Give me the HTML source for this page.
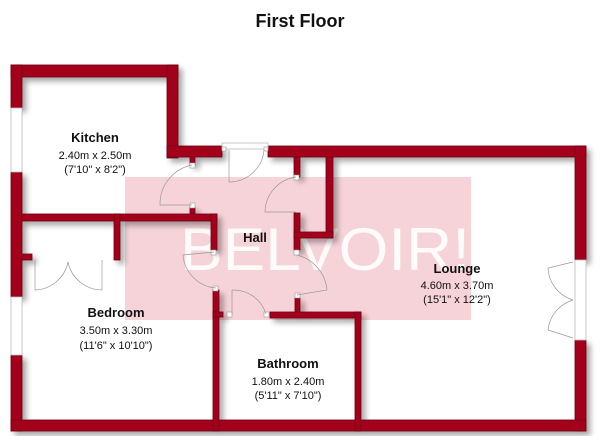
<!DOCTYPE html>
<html><head><style>
body{margin:0;width:600px;height:436px;background:#fff;overflow:hidden;font-family:"Liberation Sans",Arial,sans-serif}
</style></head><body>
<svg width="600" height="436" viewBox="0 0 600 436" xmlns="http://www.w3.org/2000/svg">
<defs>
<filter id="sh" x="-10%" y="-10%" width="130%" height="130%">
<feDropShadow dx="4" dy="4" stdDeviation="3" flood-color="#000" flood-opacity="0.35"/>
</filter>
</defs>
<text x="300" y="27" text-anchor="middle" font-size="18" font-weight="bold" fill="#111">First Floor</text>
<rect x="125" y="177" width="346" height="143" fill="#f6d3d8"/>
<text x="180" y="270" font-size="60" fill="#fff" fill-opacity="0.9" textLength="290" lengthAdjust="spacingAndGlyphs">BELVOIR!</text>
<g fill="#a3001c" stroke="#6e0012" stroke-width="0.8" filter="url(#sh)">
<rect x="11" y="65" width="167" height="12"/>
<rect x="11" y="65" width="11" height="43"/>
<rect x="11" y="172" width="11" height="125"/>
<rect x="11" y="355" width="11" height="76"/>
<rect x="167" y="65" width="11" height="93"/>
<rect x="167" y="146" width="55" height="11"/>
<rect x="268" y="146" width="318" height="11"/>
<rect x="575" y="146" width="11" height="114"/>
<rect x="575" y="340" width="11" height="91"/>
<rect x="11" y="420" width="575" height="11"/>
<rect x="190" y="157" width="5" height="8"/>
<rect x="190" y="207" width="5" height="8"/>
<rect x="22" y="214" width="195" height="7"/>
<rect x="211" y="214" width="6" height="36"/>
<rect x="114" y="214" width="6" height="46"/>
<rect x="22" y="254" width="10" height="6"/>
<rect x="294" y="157" width="6" height="20"/>
<rect x="294" y="213" width="6" height="37"/>
<rect x="326" y="157" width="7" height="81"/>
<rect x="294" y="232" width="39" height="6"/>
<rect x="213" y="290" width="6" height="141"/>
<rect x="213" y="312" width="10" height="5"/>
<rect x="270" y="312" width="91" height="6"/>
<rect x="295" y="298" width="5" height="14"/>
<rect x="355" y="312" width="6" height="119"/>
</g>
<g fill="#fff" stroke="#bbb" stroke-width="0.8">
<rect x="11" y="108" width="11" height="64"/>
<rect x="11" y="297" width="11" height="58"/>
<rect x="575" y="260" width="11" height="80"/>
<rect x="222" y="143" width="46" height="6"/>
</g>
<g fill="#fff" stroke="#999" stroke-width="0.6">
<rect x="190" y="163" width="5" height="5"/><rect x="190" y="203" width="5" height="5"/>
<rect x="294" y="175" width="5" height="5"/><rect x="294" y="250" width="5" height="5"/>
<rect x="211" y="250" width="5" height="5"/><rect x="213" y="286" width="5" height="5"/>
<rect x="227" y="312" width="5" height="5"/><rect x="264" y="312" width="5" height="5"/>
<rect x="295" y="293" width="5" height="5"/>
<rect x="222" y="147" width="4" height="4"/><rect x="264" y="147" width="4" height="4"/>
</g>
<g fill="none" stroke="#999" stroke-width="0.7">
<path d="M192 165 A40 40 0 0 0 160 205 L192 205"/>
<path d="M229 150 L229 182 A35 35 0 0 0 264 150"/>
<path d="M296 177 A36 36 0 0 0 265 212 L296 212"/>
<path d="M214 252 L183 255 A36 36 0 0 0 216 288"/>
<path d="M232 290 L232 314 M232 290 A34 34 0 0 1 266 314"/>
<path d="M297 255 A40 40 0 0 1 327 290 L297 295"/>
<path d="M35 260 L35 290 A35 35 0 0 0 68 262 M102 260 L102 290 A35 35 0 0 1 68 262"/>
<path d="M573 262 L548 268 A35 35 0 0 0 573 300 M573 338 L548 330 A35 35 0 0 1 573 300"/>
</g>
<g fill="#111" text-anchor="middle">
<text x="95" y="142" font-size="13" font-weight="bold">Kitchen</text>
<text x="95" y="159" font-size="11">2.40m x 2.50m</text>
<text x="95" y="173" font-size="11">(7'10" x 8'2")</text>
<text x="255" y="242" font-size="13" font-weight="bold">Hall</text>
<text x="457" y="273" font-size="13" font-weight="bold">Lounge</text>
<text x="457" y="289" font-size="11">4.60m x 3.70m</text>
<text x="457" y="303" font-size="11">(15'1" x 12'2")</text>
<text x="116" y="317" font-size="13" font-weight="bold">Bedroom</text>
<text x="116" y="334" font-size="11">3.50m x 3.30m</text>
<text x="116" y="349" font-size="11">(11'6" x 10'10")</text>
<text x="288" y="368" font-size="13" font-weight="bold">Bathroom</text>
<text x="288" y="385" font-size="11">1.80m x 2.40m</text>
<text x="288" y="399" font-size="11">(5'11" x 7'10")</text>
</g>
</svg>
</body></html>
